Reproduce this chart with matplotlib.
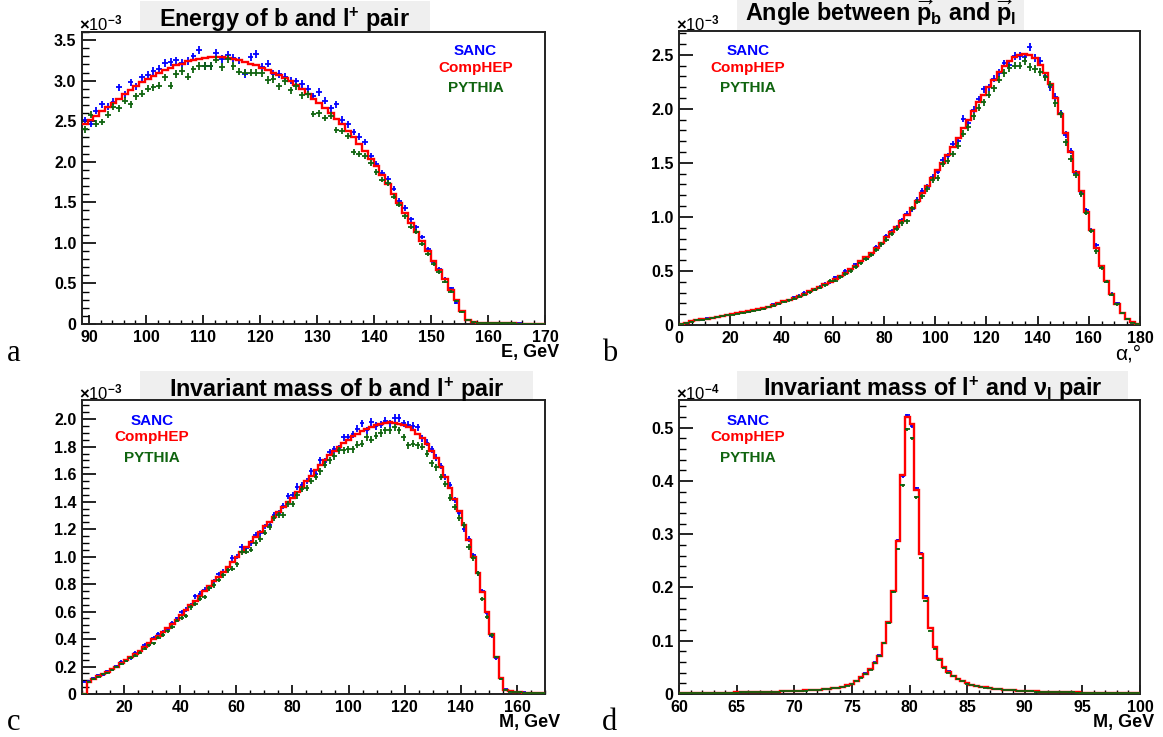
import numpy as np
import matplotlib
matplotlib.use('Agg')
import matplotlib.pyplot as plt
from matplotlib.patches import Rectangle
from matplotlib.ticker import MultipleLocator, FuncFormatter

plt.rcParams['font.family'] = ['Liberation Sans', 'DejaVu Sans']
plt.rcParams['font.weight'] = 'bold'
plt.rcParams['mathtext.fontset'] = 'custom'
plt.rcParams['mathtext.rm'] = 'Liberation Sans'
plt.rcParams['mathtext.it'] = 'Liberation Sans:italic'
plt.rcParams['mathtext.bf'] = 'Liberation Sans:bold'

W, H = 1163, 737

# ---- a: energy of b and l+ pair, 1 GeV bins (values x 1e-3)
energy_edges = np.linspace(88.7, 170, 82)
energy_comphep = [2.46, 2.51, 2.56, 2.62, 2.68, 2.73, 2.78, 2.84, 2.89, 2.94,
                  2.98, 3.02, 3.06, 3.10, 3.13, 3.16, 3.19, 3.21, 3.24, 3.26,
                  3.27, 3.28, 3.29, 3.29, 3.29, 3.28, 3.27, 3.25, 3.23, 3.21,
                  3.19, 3.16, 3.13, 3.10, 3.07, 3.03, 2.99, 2.95, 2.90, 2.84,
                  2.78, 2.73, 2.66, 2.60, 2.53, 2.46, 2.38, 2.30, 2.22, 2.13,
                  2.04, 1.95, 1.84, 1.72, 1.60, 1.49, 1.37, 1.25, 1.14, 1.02,
                  0.90, 0.78, 0.67, 0.55, 0.42, 0.29, 0.16, 0.05, 0.025, 0.015,
                  0.012, 0.010, 0.009, 0.008, 0.008, 0.007, 0.006, 0.006, 0.005, 0.005,
                  0.004]
energy_sanc = [2.51, 2.47, 2.63, 2.71, 2.68, 2.74, 2.92, 2.83, 2.98, 2.93,
               3.04, 3.07, 3.12, 3.15, 3.22, 3.23, 3.25, 3.22, 3.24, 3.30,
               3.38, 3.18, 3.18, 3.34, 3.27, 3.32, 3.28, 3.25, 3.08, 3.29,
               3.33, 3.17, 3.21, 3.08, 3.08, 3.05, 3.00, 2.99, 2.96, 2.90,
               2.81, 2.86, 2.75, 2.66, 2.71, 2.52, 2.46, 2.37, 2.31, 2.24,
               2.07, 1.97, 1.86, 1.79, 1.67, 1.52, 1.43, 1.29, 1.19, 1.07,
               0.92, 0.76, 0.68, 0.56, 0.44, 0.26, 0.16, 0.05, 0.024, 0.016,
               0.012, 0.011, 0.010, 0.009, 0.008, 0.007, 0.007, 0.006, 0.006, 0.005,
               0.005]
energy_pythia = [2.40, 2.58, 2.47, 2.49, 2.58, 2.68, 2.66, 2.75, 2.71, 2.81,
                 2.84, 2.90, 2.92, 2.94, 3.04, 2.94, 3.08, 3.12, 3.05, 3.14,
                 3.18, 3.18, 3.18, 3.26, 3.17, 3.27, 3.18, 3.11, 3.10, 3.10,
                 3.10, 3.09, 3.01, 3.02, 2.93, 2.99, 2.88, 2.93, 2.82, 2.83,
                 2.59, 2.60, 2.54, 2.57, 2.39, 2.38, 2.32, 2.12, 2.10, 2.07,
                 1.99, 1.87, 1.78, 1.74, 1.57, 1.47, 1.33, 1.20, 1.14, 0.99,
                 0.86, 0.74, 0.64, 0.52, 0.40, 0.28, 0.15, 0.05, 0.022, 0.014,
                 0.011, 0.010, 0.009, 0.008, 0.007, 0.007, 0.006, 0.006, 0.005, 0.005,
                 0.004]

# ---- b: angle between p_b and p_l, 2 degree bins (x 1e-3)
angle_edges = np.linspace(0, 180, 91)
angle_comphep = [0.010, 0.022, 0.033, 0.043, 0.052, 0.060, 0.068, 0.076, 0.084, 0.092,
                 0.100, 0.108, 0.116, 0.125, 0.135, 0.145, 0.157, 0.170, 0.185, 0.200,
                 0.218, 0.235, 0.250, 0.270, 0.290, 0.310, 0.330, 0.350, 0.375, 0.400,
                 0.430, 0.455, 0.485, 0.520, 0.550, 0.590, 0.630, 0.670, 0.710, 0.760,
                 0.810, 0.860, 0.910, 0.960, 1.020, 1.080, 1.150, 1.220, 1.290, 1.360,
                 1.430, 1.500, 1.570, 1.650, 1.730, 1.820, 1.900, 1.980, 2.060, 2.130,
                 2.200, 2.270, 2.340, 2.400, 2.440, 2.480, 2.500, 2.510, 2.500, 2.470,
                 2.410, 2.330, 2.230, 2.100, 1.950, 1.780, 1.600, 1.420, 1.240, 1.050,
                 0.880, 0.710, 0.550, 0.410, 0.290, 0.190, 0.110, 0.060, 0.025, 0.008]
angle_sanc = [0.012, 0.020, 0.035, 0.045, 0.050, 0.062, 0.066, 0.078, 0.086, 0.094,
              0.098, 0.110, 0.118, 0.122, 0.138, 0.143, 0.160, 0.168, 0.190, 0.198,
              0.225, 0.232, 0.255, 0.272, 0.300, 0.305, 0.328, 0.355, 0.380, 0.395,
              0.440, 0.450, 0.500, 0.515, 0.560, 0.585, 0.615, 0.660, 0.720, 0.750,
              0.820, 0.870, 0.900, 0.970, 1.030, 1.070, 1.160, 1.240, 1.280, 1.370,
              1.420, 1.530, 1.560, 1.670, 1.700, 1.910, 1.870, 1.990, 2.090, 2.180,
              2.200, 2.280, 2.330, 2.420, 2.410, 2.490, 2.490, 2.480, 2.570, 2.470,
              2.440, 2.300, 2.200, 2.110, 1.960, 1.760, 1.610, 1.410, 1.220, 1.060,
              0.880, 0.740, 0.540, 0.400, 0.290, 0.200, 0.110, 0.060, 0.025, 0.008]
angle_pythia = [0.010, 0.021, 0.030, 0.042, 0.050, 0.058, 0.066, 0.074, 0.080, 0.090,
                0.097, 0.105, 0.112, 0.124, 0.130, 0.140, 0.152, 0.168, 0.180, 0.196,
                0.212, 0.228, 0.245, 0.262, 0.280, 0.302, 0.325, 0.345, 0.368, 0.410,
                0.410, 0.445, 0.470, 0.498, 0.535, 0.570, 0.610, 0.650, 0.695, 0.745,
                0.790, 0.840, 0.890, 0.940, 0.960, 1.080, 1.140, 1.190, 1.260, 1.340,
                1.360, 1.490, 1.520, 1.580, 1.660, 1.770, 1.830, 1.930, 2.010, 2.060,
                2.130, 2.190, 2.270, 2.330, 2.380, 2.400, 2.400, 2.440, 2.390, 2.370,
                2.340, 2.290, 2.220, 2.050, 1.950, 1.690, 1.540, 1.390, 1.210, 1.040,
                0.870, 0.680, 0.530, 0.400, 0.280, 0.190, 0.110, 0.055, 0.023, 0.008]

# ---- c: invariant mass of b and l+ pair, 1.65 GeV bins (x 1e-3)
mbl_edges = np.linspace(5, 170, 101)
mbl_comphep = [0.0, 0.09, 0.11, 0.13, 0.145, 0.16, 0.18, 0.20, 0.225, 0.245,
               0.27, 0.29, 0.315, 0.34, 0.37, 0.40, 0.425, 0.45, 0.48, 0.51,
               0.54, 0.575, 0.61, 0.645, 0.68, 0.715, 0.75, 0.785, 0.82, 0.855,
               0.89, 0.925, 0.96, 1.00, 1.035, 1.07, 1.11, 1.145, 1.18, 1.22,
               1.255, 1.29, 1.325, 1.36, 1.395, 1.43, 1.47, 1.51, 1.55, 1.59,
               1.63, 1.67, 1.705, 1.74, 1.77, 1.80, 1.825, 1.85, 1.875, 1.895,
               1.915, 1.93, 1.945, 1.958, 1.968, 1.975, 1.978, 1.975, 1.968, 1.955,
               1.94, 1.92, 1.895, 1.86, 1.82, 1.77, 1.715, 1.65, 1.58, 1.50,
               1.42, 1.33, 1.23, 1.12, 1.00, 0.88, 0.745, 0.595, 0.44, 0.27,
               0.12, 0.03, 0.02, 0.015, 0.012, 0.01, 0.008, 0.006, 0.005, 0.004]
mbl_sanc = [0.09, 0.095, 0.115, 0.135, 0.14, 0.17, 0.175, 0.205, 0.235, 0.24,
            0.26, 0.30, 0.31, 0.36, 0.365, 0.41, 0.44, 0.45, 0.47, 0.52,
            0.55, 0.60, 0.615, 0.65, 0.71, 0.73, 0.76, 0.775, 0.82, 0.87,
            0.89, 0.905, 0.99, 1.00, 1.07, 1.06, 1.10, 1.16, 1.17, 1.22,
            1.23, 1.30, 1.32, 1.37, 1.44, 1.45, 1.51, 1.52, 1.55, 1.62,
            1.60, 1.70, 1.69, 1.76, 1.78, 1.79, 1.87, 1.87, 1.89, 1.93,
            1.97, 1.92, 1.98, 1.95, 1.96, 1.99, 1.97, 2.01, 2.01, 1.97,
            1.96, 1.95, 1.94, 1.86, 1.83, 1.78, 1.72, 1.66, 1.58, 1.52,
            1.41, 1.32, 1.20, 1.13, 1.01, 0.88, 0.75, 0.59, 0.42, 0.26,
            0.12, 0.035, 0.022, 0.016, 0.012, 0.011, 0.008, 0.007, 0.005, 0.004]
mbl_pythia = [0.0, 0.09, 0.11, 0.125, 0.145, 0.155, 0.175, 0.195, 0.22, 0.24,
              0.265, 0.28, 0.30, 0.33, 0.355, 0.37, 0.41, 0.43, 0.455, 0.49,
              0.535, 0.555, 0.57, 0.63, 0.655, 0.695, 0.705, 0.77, 0.79, 0.83,
              0.865, 0.90, 0.91, 0.945, 1.03, 1.035, 1.05, 1.10, 1.13, 1.175,
              1.215, 1.28, 1.30, 1.30, 1.38, 1.385, 1.445, 1.49, 1.50, 1.55,
              1.58, 1.62, 1.67, 1.70, 1.73, 1.775, 1.775, 1.78, 1.78, 1.815,
              1.82, 1.87, 1.85, 1.88, 1.90, 1.92, 1.92, 1.94, 1.92, 1.87,
              1.81, 1.82, 1.81, 1.80, 1.75, 1.68, 1.65, 1.58, 1.53, 1.43,
              1.36, 1.28, 1.23, 1.07, 0.99, 0.88, 0.69, 0.56, 0.43, 0.27,
              0.11, 0.03, 0.018, 0.014, 0.011, 0.009, 0.007, 0.006, 0.005, 0.004]

# ---- d: invariant mass of l+ and nu pair, 0.4 GeV bins (x 1e-4)
mlv_edges = np.linspace(60, 100, 101)
mlv_comphep = [0.0018, 0.0019, 0.0019, 0.0020, 0.0021, 0.0022, 0.0022, 0.0023, 0.0024, 0.0025,
               0.0026, 0.0027, 0.0029, 0.0030, 0.0031, 0.0033, 0.0034, 0.0036, 0.0038, 0.0040,
               0.0042, 0.0045, 0.0048, 0.0051, 0.0054, 0.0058, 0.0062, 0.0066, 0.0071, 0.0077,
               0.0083, 0.0090, 0.0098, 0.0108, 0.0120, 0.0135, 0.0160, 0.0190, 0.0250, 0.0310,
               0.0380, 0.0470, 0.0590, 0.0720, 0.0950, 0.1350, 0.1930, 0.2870, 0.4110, 0.5210,
               0.5060, 0.3830, 0.2620, 0.1810, 0.1230, 0.0880, 0.0650, 0.0500, 0.0410, 0.0340,
               0.0280, 0.0240, 0.0200, 0.0175, 0.0155, 0.0138, 0.0123, 0.0110, 0.0099, 0.0090,
               0.0082, 0.0075, 0.0069, 0.0063, 0.0058, 0.0054, 0.0050, 0.0047, 0.0044, 0.0041,
               0.0039, 0.0037, 0.0035, 0.0033, 0.0031, 0.0030, 0.0029, 0.0027, 0.0026, 0.0025,
               0.0024, 0.0023, 0.0022, 0.0022, 0.0021, 0.0020, 0.0020, 0.0019, 0.0018, 0.0018]
mlv_sanc = [0.0018, 0.0019, 0.0019, 0.0020, 0.0021, 0.0022, 0.0023, 0.0023, 0.0024, 0.0025,
            0.0026, 0.0028, 0.0029, 0.0030, 0.0031, 0.0033, 0.0035, 0.0036, 0.0038, 0.0041,
            0.0042, 0.0046, 0.0048, 0.0052, 0.0054, 0.0059, 0.0062, 0.0067, 0.0071, 0.0078,
            0.0083, 0.0091, 0.0099, 0.0109, 0.0122, 0.0137, 0.0162, 0.0193, 0.0252, 0.0313,
            0.0385, 0.0472, 0.0595, 0.0725, 0.0960, 0.1360, 0.1935, 0.2885, 0.4090, 0.5230,
            0.5030, 0.3860, 0.2640, 0.1840, 0.1240, 0.0880, 0.0660, 0.0500, 0.0430, 0.0340,
            0.0285, 0.0240, 0.0200, 0.0176, 0.0150, 0.0135, 0.0124, 0.0111, 0.0099, 0.0091,
            0.0082, 0.0076, 0.0069, 0.0064, 0.0058, 0.0055, 0.0050, 0.0047, 0.0045, 0.0041,
            0.0039, 0.0037, 0.0036, 0.0033, 0.0031, 0.0030, 0.0029, 0.0028, 0.0026, 0.0025,
            0.0024, 0.0023, 0.0022, 0.0022, 0.0021, 0.0020, 0.0020, 0.0019, 0.0018, 0.0018]
mlv_pythia = [0.0017, 0.0018, 0.0019, 0.0019, 0.0020, 0.0021, 0.0022, 0.0022, 0.0023, 0.0024,
              0.0025, 0.0027, 0.0028, 0.0029, 0.0030, 0.0032, 0.0033, 0.0035, 0.0037, 0.0039,
              0.0041, 0.0044, 0.0047, 0.0050, 0.0053, 0.0057, 0.0061, 0.0065, 0.0070, 0.0076,
              0.0081, 0.0088, 0.0096, 0.0106, 0.0118, 0.0133, 0.0157, 0.0186, 0.0245, 0.0303,
              0.0372, 0.0460, 0.0578, 0.0715, 0.0955, 0.1330, 0.1910, 0.2720, 0.3920, 0.4970,
              0.4800, 0.3690, 0.2560, 0.1740, 0.1190, 0.0850, 0.0630, 0.0490, 0.0400, 0.0330,
              0.0275, 0.0235, 0.0196, 0.0172, 0.0150, 0.0135, 0.0120, 0.0108, 0.0097, 0.0088,
              0.0080, 0.0074, 0.0068, 0.0062, 0.0057, 0.0053, 0.0049, 0.0046, 0.0043, 0.0040,
              0.0038, 0.0036, 0.0034, 0.0032, 0.0030, 0.0029, 0.0028, 0.0027, 0.0026, 0.0025,
              0.0024, 0.0023, 0.0022, 0.0021, 0.0020, 0.0020, 0.0019, 0.0018, 0.0018, 0.0017]

BLUE = '#0000ff'
RED = '#ff0000'
GREEN = '#0f640f'
GRAY = '#efefef'

fig = plt.figure(figsize=(W / 100, H / 100), dpi=100)


def fx(x):
    return x / W


def fy(y):
    return 1 - y / H


def box(l, t, r, b):
    fig.add_artist(Rectangle((fx(l), fy(b)), (r - l) / W, (b - t) / H,
                             transform=fig.transFigure, facecolor=GRAY,
                             edgecolor='none', zorder=0))


def ytick_fmt(v, pos):
    return '0' if abs(v) < 1e-9 else '%.1f' % v


def panel(frame, edges, sanc, comphep, pythia, errk, xlim, ylim, xmaj, xmin, ymaj, ymin):
    l, t, r, b = frame
    ax = fig.add_axes([fx(l), fy(b), (r - l) / W, (b - t) / H])
    centers = 0.5 * (edges[1:] + edges[:-1])
    hw = 0.5 * np.diff(edges)
    s = np.array(sanc)
    p = np.array(pythia)
    ax.errorbar(centers, s, xerr=hw, yerr=errk * np.sqrt(s), fmt='none',
                ecolor=BLUE, elinewidth=1.3, capsize=0, zorder=2)
    ax.stairs(comphep, edges, baseline=None, color=RED, lw=1.7, zorder=3)
    ax.errorbar(centers, p, xerr=hw, yerr=errk * np.sqrt(p), fmt='none',
                ecolor=GREEN, elinewidth=1.3, capsize=0, zorder=4)
    ax.set_xlim(*xlim)
    ax.set_ylim(*ylim)
    ax.xaxis.set_major_locator(MultipleLocator(xmaj))
    ax.xaxis.set_minor_locator(MultipleLocator(xmin))
    ax.yaxis.set_major_locator(MultipleLocator(ymaj))
    ax.yaxis.set_minor_locator(MultipleLocator(ymin))
    ax.yaxis.set_major_formatter(FuncFormatter(ytick_fmt))
    ax.tick_params(which='both', direction='in', top=False, right=False, color='black')
    ax.tick_params(axis='y', which='major', length=10, width=1.2, labelsize=11.5, pad=4)
    ax.tick_params(axis='y', which='minor', length=5, width=1.0)
    ax.tick_params(axis='x', which='major', length=6.3, width=1.2, labelsize=11.5, pad=4)
    ax.tick_params(axis='x', which='minor', length=3.2, width=1.0)
    for sp in ax.spines.values():
        sp.set_linewidth(1.4)
        sp.set_color('#222222')
    return ax


def legend(l, t, r, b, ys):
    box(l, t, r, b)
    cx = fx(0.5 * (l + r))
    for txt, col, y in zip(['SANC', 'CompHEP', 'PYTHIA'], [BLUE, RED, GREEN], ys):
        fig.text(cx, fy(y), txt, color=col, ha='center', va='baseline',
                 fontsize=11, fontweight='bold', zorder=5)


def title(l, t, r, b, base, s):
    box(l, t, r, b)
    fig.text(fx(0.5 * (l + r)), fy(base), s, ha='center', va='baseline',
             fontsize=16.8, fontweight='bold', zorder=5)


def multiplier(x, y, s):
    fig.text(fx(x), fy(y), s, fontsize=12, fontweight='normal', va='center')


def letter(x, y, s):
    fig.text(fx(x), fy(y), s, family='Liberation Serif', fontsize=22, fontweight='normal')


# panel a
panel((82, 32, 545, 324), energy_edges, energy_sanc, energy_comphep, energy_pythia, 0.026,
      (88.7, 170), (0, 3.6), 10, 2, 0.5, 0.1)
title(140, 1, 430, 31, 26.5, r'Energy of b and l$^{\mathbf{+}}$ pair')
legend(418, 38, 533, 94, [55, 72, 91.5])
multiplier(79, 23, r'$\times$10$^{-3}$')
letter(7, 361, 'a')
fig.text(fx(559), fy(353), 'E, GeV', ha='right', va='center', fontsize=13)

# panel b
panel((679, 31, 1140, 325), angle_edges, angle_sanc, angle_comphep, angle_pythia, 0.023,
      (0, 180), (0, 2.72), 20, 5, 0.5, 0.1)
title(737, 0, 1024, 31, 21.5,
      r'Angle between $\overrightarrow{\mathbf{p}}_{\mathbf{b}}$ and $\overrightarrow{\mathbf{p}}_{\mathbf{l}}$')
legend(690, 38, 806, 94, [55, 72, 91.5])
multiplier(675.5, 23, r'$\times$10$^{-3}$')
letter(602, 361, 'b')
fig.text(fx(1141), fy(354), 'α,°', ha='right', va='center',
         fontsize=15, fontweight='normal')

# panel c
panel((82, 400, 545, 694), mbl_edges, mbl_sanc, mbl_comphep, mbl_pythia, 0.019,
      (5, 170), (0, 2.14), 20, 5, 0.2, 0.05)
title(140, 371, 533, 401, 396.5, r'Invariant mass of b and l$^{\mathbf{+}}$ pair')
legend(94, 407, 210, 464, [425, 441, 461.5])
multiplier(79, 392, r'$\times$10$^{-3}$')
letter(7, 730, 'c')
fig.text(fx(560), fy(723), 'M, GeV', ha='right', va='center', fontsize=13)

# panel d
panel((679, 400, 1140, 694), mlv_edges, mlv_sanc, mlv_comphep, mlv_pythia, 0.004,
      (60, 100), (0, 0.552), 5, 1, 0.1, 0.02)
title(737, 371, 1128, 401, 395.5,
      r'Invariant mass of l$^{\mathbf{+}}$ and $\mathrm{\nu}_{\mathbf{l}}$ pair')
legend(690, 408, 806, 464, [425, 441, 461.5])
multiplier(675.5, 392, r'$\times$10$^{-4}$')
letter(602, 730, 'd')
fig.text(fx(1154), fy(723), 'M, GeV', ha='right', va='center', fontsize=13)

fig.savefig('out.png', dpi=100)
